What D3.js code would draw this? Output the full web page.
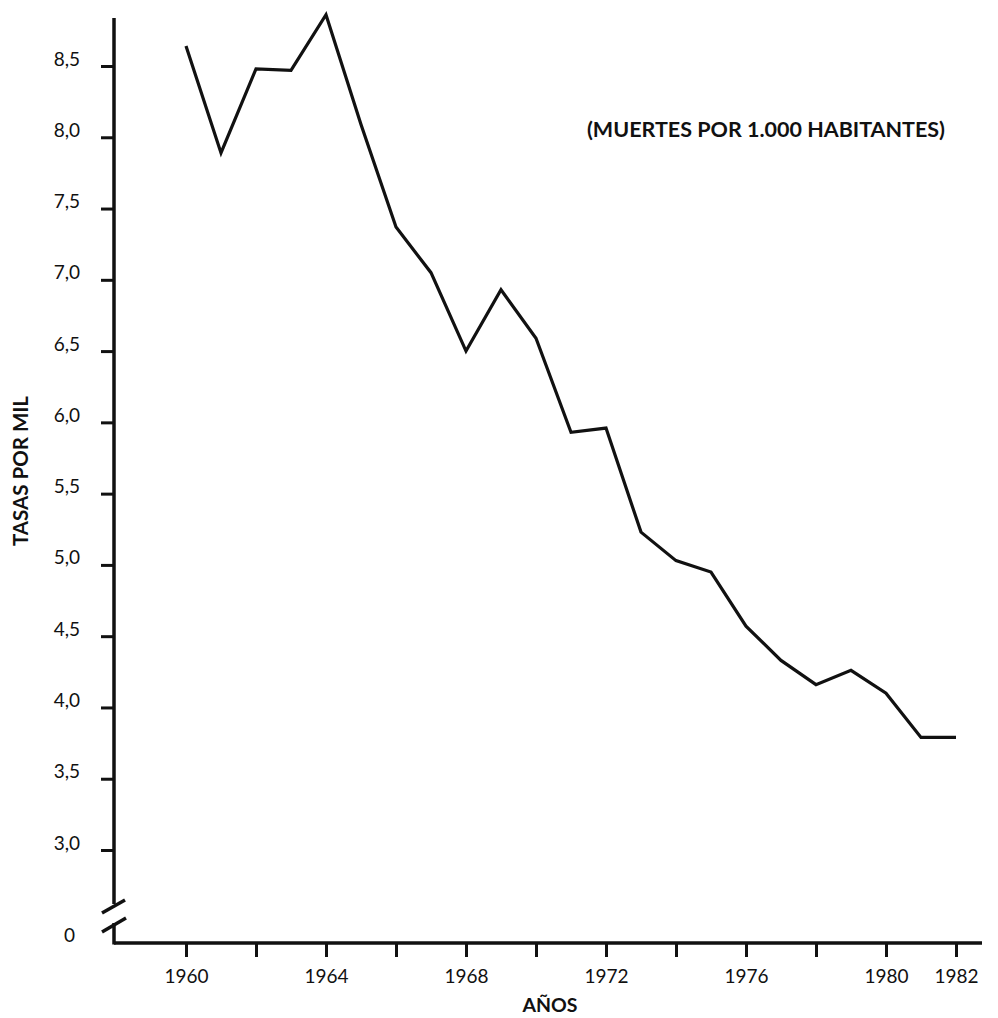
<!DOCTYPE html>
<html>
<head>
<meta charset="utf-8">
<script src="https://cdn.jsdelivr.net/npm/d3@7"></script>
<style>
  html, body { margin: 0; padding: 0; background: #fff; }
  svg { display: block; }
  text { font-family: Lato, "Open Sans", sans-serif; fill: #111; }
</style>
</head>
<body>
<svg id="chart" width="998" height="1018"></svg>
<script>
const years = [1960,1961,1962,1963,1964,1965,1966,1967,1968,1969,1970,1971,1972,1973,1974,1975,1976,1977,1978,1979,1980,1981,1982];
const rates = [8.64,7.89,8.48,8.47,8.86,8.09,7.37,7.05,6.50,6.93,6.59,5.93,5.96,5.23,5.03,4.95,4.57,4.33,4.16,4.26,4.10,3.79,3.79];
const yTicks = [3.0,3.5,4.0,4.5,5.0,5.5,6.0,6.5,7.0,7.5,8.0,8.5];
const yTickLabels = ["3,0","3,5","4,0","4,5","5,0","5,5","6,0","6,5","7,0","7,5","8,0","8,5"];
const xTicks = [1960,1962,1964,1966,1968,1970,1972,1974,1976,1978,1980,1982];
const xLabelYears = [1960,1964,1968,1972,1976,1980,1982];
const titleText = "(MUERTES POR 1.000 HABITANTES)";
const yTitle = "TASAS POR MIL";
const xTitle = "AÑOS";

const svg = d3.select("#chart");
svg.append("rect").attr("width", 998).attr("height", 1018).attr("fill", "#fff");

const axisX = 114;      // y-axis position
const baseY = 943;      // x-axis position (value 0)

const x = d3.scaleLinear().domain([1960, 1982]).range([186, 956]);
const y = d3.scaleLinear().domain([3, 8.5]).range([850, 66]);

// Y axis (ticks + labels), domain line drawn separately due to break
const yAxis = d3.axisLeft(y)
  .tickValues(yTicks)
  .tickSize(13)
  .tickPadding(21)
  .tickFormat((d, i) => yTickLabels[i]);
const gy = svg.append("g").attr("transform", `translate(${axisX},0)`).call(yAxis);
gy.select(".domain").remove();
gy.selectAll(".tick line").attr("stroke", "#111").attr("stroke-width", 3);
gy.selectAll(".tick text")
  .attr("dy", "0").attr("y", -1)
  .style("font-size", "19px").style("font-family", "Lato, sans-serif").attr("fill", "#111");

// X axis
const xAxis = d3.axisBottom(x)
  .tickValues(xTicks)
  .tickSize(14)
  .tickFormat(d => xLabelYears.includes(d) ? String(d) : "");
const gx = svg.append("g").attr("transform", `translate(0,${baseY})`).call(xAxis);
gx.select(".domain").remove();
gx.selectAll(".tick line").attr("stroke", "#111").attr("stroke-width", 3);
gx.selectAll(".tick text")
  .attr("dy", "0").attr("y", 40)
  .style("font-size", "19px").style("font-family", "Lato, sans-serif").attr("fill", "#111");

// Axis lines
svg.append("line").attr("x1", axisX).attr("x2", 982).attr("y1", baseY).attr("y2", baseY)
  .attr("stroke", "#111").attr("stroke-width", 3.5);
svg.append("line").attr("x1", axisX).attr("x2", axisX).attr("y1", 18).attr("y2", 904)
  .attr("stroke", "#111").attr("stroke-width", 3.5);
svg.append("line").attr("x1", axisX).attr("x2", axisX).attr("y1", 923).attr("y2", baseY + 1.5)
  .attr("stroke", "#111").attr("stroke-width", 3.5);
// Break marks
svg.append("line").attr("x1", 102).attr("y1", 913).attr("x2", 125).attr("y2", 900)
  .attr("stroke", "#111").attr("stroke-width", 3.5);
svg.append("line").attr("x1", 102).attr("y1", 932).attr("x2", 126).attr("y2", 918)
  .attr("stroke", "#111").attr("stroke-width", 3.5);

// Zero label
svg.append("text").attr("x", 75).attr("y", 942).attr("text-anchor", "end")
  .style("font-size", "19px").text("0");

// Line
const line = d3.line().x((d, i) => x(years[i])).y(d => y(d));
svg.append("path").datum(rates)
  .attr("d", line)
  .attr("fill", "none")
  .attr("stroke", "#111")
  .attr("stroke-width", 3.2)
  .attr("stroke-linejoin", "miter");

// Titles
svg.append("text").attr("x", 766).attr("y", 137).attr("text-anchor", "middle")
  .style("font-size", "21.5px").style("font-weight", "bold").text(titleText);
svg.append("text").attr("transform", "translate(28,471) rotate(-90)").attr("text-anchor", "middle")
  .style("font-size", "20.5px").style("font-weight", "bold").text(yTitle);
svg.append("text").attr("x", 550).attr("y", 1012).attr("text-anchor", "middle")
  .style("font-size", "19.5px").style("font-weight", "bold").text(xTitle);
</script>
</body>
</html>
